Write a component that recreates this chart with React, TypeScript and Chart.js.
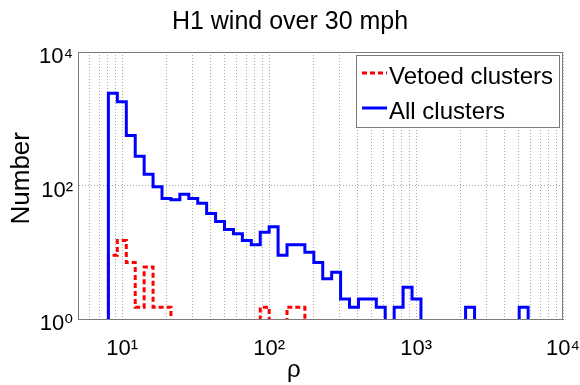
import React, { useEffect, useRef } from 'react';
import { Chart, registerables } from 'chart.js';

Chart.register(...registerables);

// Logarithmic histogram bin edges (rho)
const binEdges = [
  8.05, 9.26, 10.66, 12.26, 14.1, 16.21, 18.65, 21.45, 24.67, 28.38,
  32.64, 37.54, 43.18, 49.67, 57.13, 65.71, 75.58, 86.93, 99.99, 115.0,
  132.3, 152.2, 175.0, 201.3, 231.5, 266.3, 306.3, 352.3, 405.2, 466.1,
  536.1, 616.6, 709.2, 815.7, 938.2, 1079, 1241, 1428, 1642, 1889,
  2172, 2499, 2874, 3306, 3802, 4373, 5030, 5786,
];

// Counts per bin (0 = empty bin)
const vetoedCounts = [
  9, 15, 7, 1.5, 6, 1.5, 1.5, 0, 0, 0,
  0, 0, 0, 0, 0, 0, 0, 1.5, 0, 0,
  1.5, 1.5, 0, 0, 0, 0, 0, 0, 0, 0,
  0, 0, 0, 0, 0, 0, 0, 0, 0, 0,
  0, 0, 0, 0, 0, 0, 0,
];

const allCounts = [
  2400, 1800, 560, 275, 147, 96, 64, 61, 74, 64,
  54, 38, 29, 22, 19, 15, 13, 20, 24, 9,
  13, 13, 10, 7, 4, 5, 2, 1.5, 2, 2,
  1.5, 0, 1.5, 3, 2, 0, 0, 0, 0, 0,
  1.5, 0, 0, 0, 0, 0, 1.5,
];

const seriesLabels = ['Vetoed clusters', 'All clusters'];

const xGridTicks = [
  5, 6, 7, 8, 9, 10, 20, 30, 40, 50, 60, 70, 80, 90,
  100, 200, 300, 400, 500, 600, 700, 800, 900,
  1000, 2000, 3000, 4000, 5000, 6000, 7000, 8000, 9000, 10000,
];
const xLabelTicks = [10, 100, 1000, 10000];
const yTicks = [1, 100, 10000];
const supDigits = ['⁰', '¹', '²', '³', '⁴'];

const FLOOR = 0.5; // empty bins drawn below the axis minimum (clipped away)
const FONT = "'Liberation Sans', Arial, Helvetica, 'DejaVu Sans', sans-serif";

function stairs(counts: number[]) {
  const pts: { x: number; y: number }[] = [{ x: binEdges[0], y: FLOOR }];
  counts.forEach((c, i) => pts.push({ x: binEdges[i], y: c > 0 ? c : FLOOR }));
  pts.push({ x: binEdges[counts.length], y: FLOOR });
  return pts;
}

function powLabel(v: number) {
  const e = Math.round(Math.log10(v));
  return '10' + supDigits[e];
}

const framePlugin = {
  id: 'frameAndLegend',
  afterDatasetsDraw(chart: any) {
    const { ctx, chartArea } = chart;
    const { left, right, top, bottom } = chartArea;
    ctx.save();
    // box (top & right edges)
    ctx.strokeStyle = '#7a7a7a';
    ctx.lineWidth = 1;
    ctx.beginPath();
    ctx.moveTo(left, top + 0.5);
    ctx.lineTo(right - 0.5, top + 0.5);
    ctx.lineTo(right - 0.5, bottom);
    ctx.stroke();

    // legend
    const bx = 356.5, by = 55.5, bw = 203, bh = 72;
    ctx.fillStyle = '#ffffff';
    ctx.fillRect(bx, by, bw, bh);
    ctx.strokeStyle = '#7a7a7a';
    ctx.strokeRect(bx, by, bw, bh);
    const order = [0, 1];
    const rowY = [73, 108];
    order.forEach((di, r) => {
      const ds = chart.data.datasets[di];
      const y = rowY[r];
      ctx.save();
      ctx.strokeStyle = ds.borderColor;
      ctx.lineWidth = ds.borderWidth;
      ctx.setLineDash(ds.borderDash || []);
      ctx.beginPath();
      ctx.moveTo(362, y);
      ctx.lineTo(387, y);
      ctx.stroke();
      ctx.restore();
      ctx.fillStyle = '#000';
      ctx.font = `24px ${FONT}`;
      ctx.textBaseline = 'middle';
      ctx.textAlign = 'left';
      ctx.fillText(ds.label, 389, y + 4);
    });
    ctx.restore();
  },
};

export default function App() {
  const canvasRef = useRef<HTMLCanvasElement | null>(null);

  useEffect(() => {
    if (!canvasRef.current) return;
    Chart.defaults.font.family = FONT;
    const chart = new Chart(canvasRef.current, {
      type: 'line',
      data: {
        datasets: [
          {
            label: seriesLabels[0],
            data: stairs(vetoedCounts),
            borderColor: '#ff0000',
            borderWidth: 3,
            borderDash: [5, 3],
            stepped: 'before',
            pointRadius: 0,
            fill: false,
            clip: 0,
            order: 1,
          },
          {
            label: seriesLabels[1],
            data: stairs(allCounts),
            borderColor: '#0000ff',
            borderWidth: 3,
            stepped: 'before',
            pointRadius: 0,
            fill: false,
            clip: 0,
            order: 0,
          },
        ] as any,
      },
      options: {
        animation: false,
        responsive: false,
        layout: { padding: { left: 0, right: 0, top: 0, bottom: 0 } },
        plugins: {
          legend: { display: false },
          tooltip: { enabled: false },
          title: {
            display: true,
            text: 'H1 wind over 30 mph',
            color: '#000',
            font: { size: 25, weight: 'normal' },
            padding: { top: 7, bottom: 15 },
          },
        },
        scales: {
          x: {
            type: 'logarithmic',
            min: 5,
            max: 10000,
            afterBuildTicks: (scale: any) => {
              scale.ticks = xGridTicks.map((v) => ({ value: v }));
            },
            afterFit: (scale: any) => {
              scale.height = 66;
            },
            ticks: {
              autoSkip: false,
              maxRotation: 0,
              padding: 0,
              color: '#000',
              font: { size: 22 },
              callback: (v: any) => (xLabelTicks.includes(Number(v)) ? powLabel(Number(v)) : ''),
            },
            grid: {
              color: '#a8a8a8',
              lineWidth: 1,
              drawTicks: true,
              tickLength: 17,
              tickColor: 'rgba(0,0,0,0)',
            },
            border: { color: '#7a7a7a', width: 1, dash: [1, 2] },
            title: {
              display: true,
              text: 'ρ        ',
              color: '#000',
              font: { size: 24 },
              padding: { top: 0, bottom: 0 },
            },
          },
          y: {
            type: 'logarithmic',
            min: 1,
            max: 10000,
            afterBuildTicks: (scale: any) => {
              scale.ticks = yTicks.map((v) => ({ value: v }));
            },
            afterFit: (scale: any) => {
              scale.width = 78;
            },
            ticks: {
              padding: 5,
              labelOffset: 5,
              color: '#000',
              font: { size: 22 },
              callback: (v: any) => powLabel(Number(v)),
            },
            grid: { color: '#a8a8a8', lineWidth: 1, drawTicks: false },
            border: { color: '#7a7a7a', width: 1, dash: [1, 2] },
            title: {
              display: true,
              text: '  Number',
              color: '#000',
              font: { size: 26 },
              padding: { top: 6, bottom: 0 },
            },
          },
        },
      } as any,
      plugins: [framePlugin],
    });
    return () => chart.destroy();
  }, []);

  return (
    <div style={{ position: 'absolute', left: 0, top: 0, width: 580, height: 385, background: '#fff' }}>
      <canvas ref={canvasRef} width={580} height={385} style={{ display: 'block' }} />
    </div>
  );
}
